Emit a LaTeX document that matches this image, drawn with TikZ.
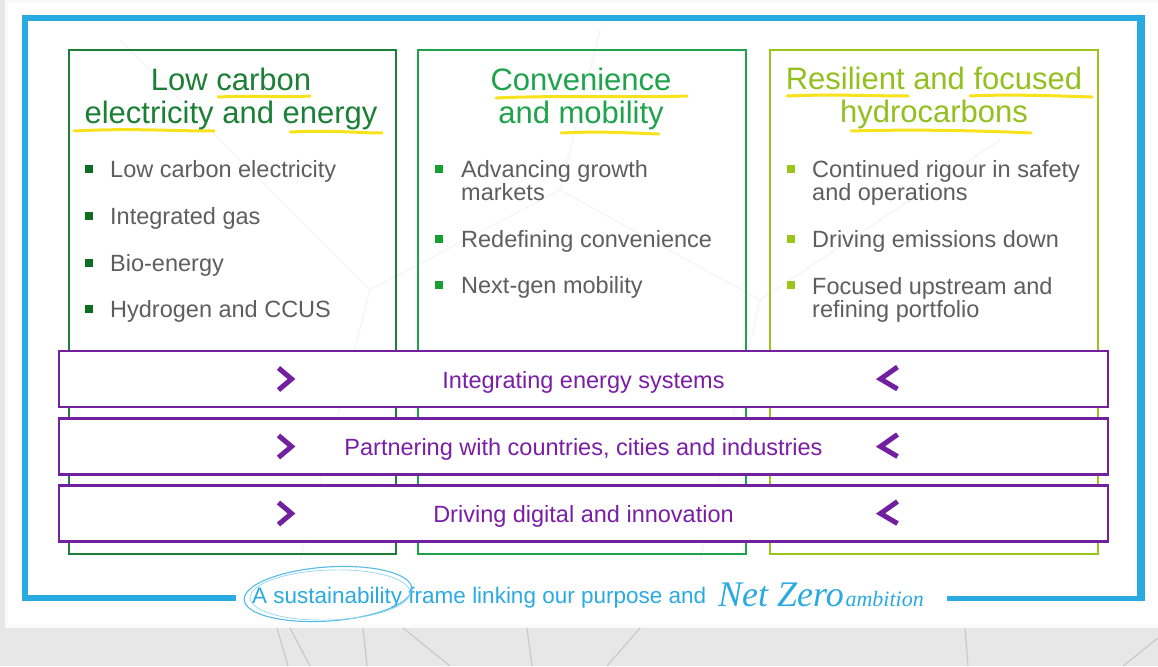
\documentclass[tikz,border=0pt]{standalone}
\usepackage{fontspec}
\setmainfont{Liberation Sans}
\newfontfamily\nzfont{Liberation Serif}
\usetikzlibrary{calc}
\definecolor{cGreenA}{HTML}{1B7F35}
\definecolor{cGreenAb}{HTML}{0E6E1F}
\definecolor{cGreenB}{HTML}{1EA34A}
\definecolor{cGreenBb}{HTML}{17A030}
\definecolor{cLime}{HTML}{9CC419}
\definecolor{cLimeT}{HTML}{93C01F}
\definecolor{cPurple}{HTML}{7320A0}
\definecolor{cPurpleT}{HTML}{7A1EA6}
\definecolor{cGrayT}{HTML}{5E5E5E}
\definecolor{cBlue}{HTML}{2AAAE2}
\definecolor{cYellow}{HTML}{F8E21C}
\definecolor{cBg}{HTML}{E7E7E7}
\definecolor{cNet}{HTML}{C9C9C9}
\definecolor{cNetL}{HTML}{F5F5F5}
\tikzset{
  colbox/.style={draw, line width=1.8pt, fill=none},
  barbox/.style={draw=cPurple, line width=2.2pt, fill=white, minimum width=1049pt, minimum height=56pt, inner sep=0pt, text height=23pt, text depth=5pt, text=cPurpleT, font=\fontsize{23.5}{23}\selectfont},
  title/.style={align=center, inner sep=0pt, anchor=base, font=\fontsize{31}{33}\selectfont},
  item/.style={align=left, inner sep=0pt, anchor=base west, text=cGrayT, font=\fontsize{23.5}{23}\selectfont},
  sq/.style={minimum size=7.5pt, inner sep=0pt, fill=#1},
  hl/.style={draw=cYellow, line width=3pt, line cap=round},
  chev/.style={draw=cPurple, line width=5pt, line join=miter, line cap=butt},
  frame/.style={draw=cBlue, line width=6pt, line cap=butt},
}
\begin{document}
\begin{tikzpicture}[x=1pt,y=-1pt]
\useasboundingbox (0,0) rectangle (1158,666);
% background
\fill[cBg] (0,0) rectangle (1158,666);
\fill[white!98!black] (5,0) rectangle (1158,628);
\fill[white] (8,3) rectangle (1158,625);
% faint network lines
\draw[cNetL, line width=1.2pt] (120,40) -- (370,290) -- (560,190) -- (760,300) -- (1000,140);
\draw[cNetL, line width=1.2pt] (370,290) -- (300,560) (760,300) -- (700,560) (560,190) -- (600,30);
\draw[cNet, line width=1.2pt] (277,628) -- (288,666) (290,628) -- (310,666) (363,628) -- (367,666) (403,628) -- (450,666) (527,628) -- (532,666) (640,628) -- (607,666) (965,628) -- (968,666) (1158,638) -- (1123,666);
% blue frame
\draw[frame] (25,16) -- (25,601);
\draw[frame] (22,18) -- (1144,18);
\draw[frame, line width=8pt] (1141,15) -- (1141,601);
\draw[frame] (22,598) -- (236,598);
\draw[frame, line width=5pt] (947,598) -- (1145,598);
% columns
\node[colbox, draw=cGreenA, minimum width=327pt, minimum height=504pt, anchor=north west, inner sep=0pt] (c1) at (68,49) {};
\node[colbox, draw=cGreenB, minimum width=328pt, minimum height=504pt, anchor=north west, inner sep=0pt] (c2) at (417,49) {};
\node[colbox, draw=cLime, minimum width=328pt, minimum height=504pt, anchor=north west, inner sep=0pt] (c3) at (769,49) {};
% highlights
\draw[hl] (218,97) .. controls (260,95) and (280,98) .. (310,96);
\draw[hl] (74,131) .. controls (130,128) and (170,131) .. (214,131);
\draw[hl] (290,132) .. controls (330,130) and (360,133) .. (382,133);
\draw[hl] (496,98) .. controls (560,95) and (630,98) .. (687,96);
\draw[hl] (561,133) .. controls (600,131) and (630,133) .. (659,134);
\draw[hl] (787,96) .. controls (830,94) and (870,96) .. (908,96);
\draw[hl] (970,96) .. controls (1010,94) and (1060,96) .. (1092,97);
\draw[hl] (851,131) .. controls (920,129) and (990,131) .. (1031,133);
% titles (anchor base = last line)
\node[title, text=cGreenA] (t1) at (231,124) {Low carbon\\electricity and energy};
\node[title, text=cGreenB] (t2) at (581,124) {Convenience\\and mobility};
\node[title, text=cLimeT] (t3) at (934,123) {Resilient and focused\\hydrocarbons};
% column 1 items
\node[sq=cGreenAb] (b11) at (89,169) {};
\node[item] (i11) at (110,177) {Low carbon electricity};
\node[sq=cGreenAb] (b12) at (89,216) {};
\node[item] (i12) at (110,224) {Integrated gas};
\node[sq=cGreenAb] (b13) at (89,263) {};
\node[item] (i13) at (110,271) {Bio-energy};
\node[sq=cGreenAb] (b14) at (89,309) {};
\node[item] (i14) at (110,317) {Hydrogen and CCUS};
% column 2 items
\node[sq=cGreenBb] (b21) at (439,169) {};
\node[item] (i21) at (461,200) {Advancing growth\\markets};
\node[sq=cGreenBb] (b22) at (439,239) {};
\node[item] (i22) at (461,247) {Redefining convenience};
\node[sq=cGreenBb] (b23) at (439,285) {};
\node[item] (i23) at (461,293) {Next-gen mobility};
% column 3 items
\node[sq=cLime] (b31) at (791,169) {};
\node[item] (i31) at (812,200) {Continued rigour in safety\\and operations};
\node[sq=cLime] (b32) at (791,239) {};
\node[item] (i32) at (812,247) {Driving emissions down};
\node[sq=cLime] (b33) at (791,285) {};
\node[item] (i33) at (812,317) {Focused upstream and\\refining portfolio};
% bars
\node[barbox] (bar1) at (583.5,379) {Integrating energy systems};
\node[barbox] (bar2) at (583.5,446.5) {Partnering with countries, cities and industries};
\node[barbox] (bar3) at (583.5,513.5) {Driving digital and innovation};
% chevrons
\foreach \b in {bar1, bar2, bar3}{
  \draw[chev] ($(\b.center)+(-305,-11)$) -- ($(\b.center)+(-292,0)$) -- ($(\b.center)+(-305,11)$);
  \draw[chev] ($(\b.center)+(314,-12)$) -- ($(\b.center)+(297,0)$) -- ($(\b.center)+(314,10)$);
}
% bottom text
\node[inner sep=0pt, anchor=base west, text=cBlue, font=\fontsize{22.5}{24}\selectfont] (bt) at (252,603) {A sustainability frame linking our purpose and};
\draw[cBlue!80, line width=1.1pt, rotate around={4:(328,594)}] (328,594) ellipse [x radius=84pt, y radius=27pt];
\draw[cBlue!50, line width=0.7pt, rotate around={2:(330,595)}] (330,595) ellipse [x radius=80pt, y radius=25pt];
\node[inner sep=0pt, anchor=base west, text=cBlue, font=\nzfont\itshape] (nz) at (718,606) {{\fontsize{36}{36}\selectfont Net Zero}\,{\fontsize{22}{22}\selectfont ambition}};
\end{tikzpicture}
\end{document}
